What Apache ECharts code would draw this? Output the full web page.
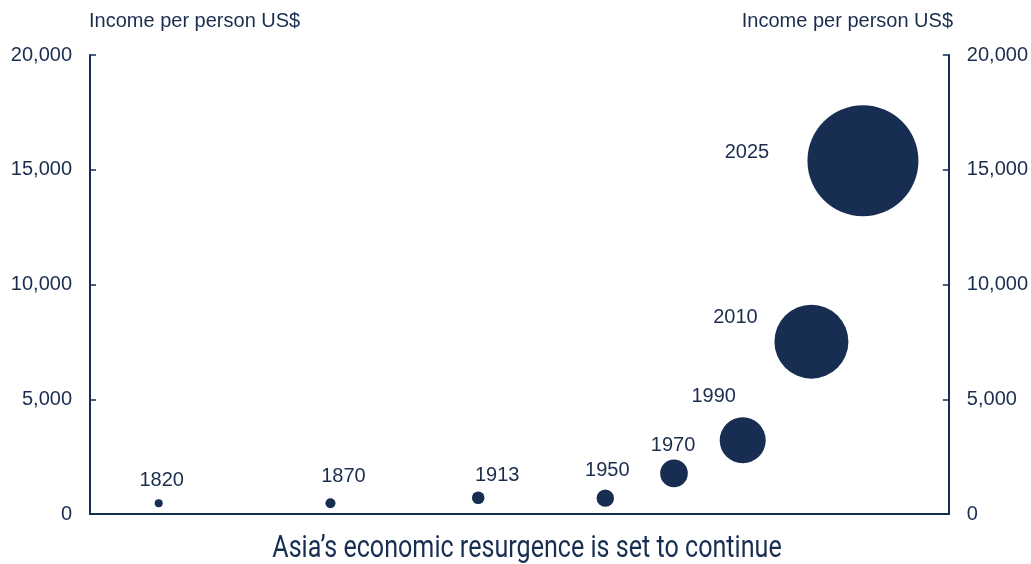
<!DOCTYPE html>
<html>
<head>
<meta charset="utf-8">
<script src="https://cdn.jsdelivr.net/npm/echarts@6/dist/echarts.min.js"></script>
<style>
html,body{margin:0;padding:0;background:#fff;}
#chart{width:1031px;height:564px;}
</style>
</head>
<body>
<div id="chart"></div>
<script>
// Data
const years = [1820, 1870, 1913, 1950, 1970, 1990, 2010, 2025];
const incomePerPerson = [470, 470, 710, 690, 1770, 3210, 7510, 15390];
const bubbleWeight = [8, 10, 12.6, 17.4, 27.6, 46, 74, 111];
const yTicks = [0, 5000, 10000, 15000, 20000];
const axisName = 'Income per person US$';
const titleText = 'Asia\u2019s economic resurgence is set to continue';

// Label placement (style only): offsets of each year label relative to its bubble
const labelOffsets = [[3, -23], [13, -27], [19, -22], [2, -28], [-1, -28], [-29, -44], [-76, -24], [-116, -8]];

const NAVY = '#172d52';
const TEXT = '#1b2d4f';

const chart = echarts.init(document.getElementById('chart'), null, {renderer: 'canvas'});

const fmt = v => v.toString().replace(/\B(?=(\d{3})+(?!\d))/g, ',');

function yAxis(pos) {
  return {
    type: 'value',
    position: pos,
    min: yTicks[0],
    max: yTicks[yTicks.length - 1],
    interval: yTicks[1] - yTicks[0],
    axisLine: {show: true, onZero: false, lineStyle: {color: NAVY, width: 2}},
    axisTick: {show: true, inside: true, length: 6, lineStyle: {color: NAVY, width: 1.5}},
    axisLabel: {
      color: TEXT, fontFamily: 'Liberation Sans, Arial, sans-serif', fontSize: 20,
      margin: 18, formatter: fmt
    },
    splitLine: {show: false}
  };
}

const data = years.map((y, i) => ({
  value: [y, incomePerPerson[i], bubbleWeight[i]],
  label: {offset: labelOffsets[i]}
}));

chart.setOption({
  animation: false,
  backgroundColor: '#fff',
  grid: {left: 90, right: 78, top: 55, bottom: 50, containLabel: false},
  xAxis: {
    type: 'value', min: 1800, max: 2050,
    axisLine: {show: true, onZero: false, lineStyle: {color: NAVY, width: 2}},
    axisTick: {show: false}, axisLabel: {show: false}, splitLine: {show: false}
  },
  yAxis: [yAxis('left'), yAxis('right')],
  graphic: [
    {type: 'text', left: 89, top: 11, style: {text: axisName, fill: TEXT, font: '20px "Liberation Sans", Arial, sans-serif'}},
    {type: 'text', right: 78, top: 11, style: {text: axisName, fill: TEXT, font: '20px "Liberation Sans", Arial, sans-serif'}},
    {type: 'text', x: 527, y: 549, scaleX: 0.81,
      style: {text: titleText, fill: NAVY, font: '31px Roboto, sans-serif', align: 'center', verticalAlign: 'middle'}}
  ],
  series: [{
    type: 'scatter',
    yAxisIndex: 0,
    data: data,
    symbol: 'circle',
    symbolSize: v => v[2],
    itemStyle: {color: NAVY, opacity: 1},
    label: {
      show: true, position: 'inside',
      formatter: p => String(p.value[0]),
      color: TEXT, fontFamily: 'Liberation Sans, Arial, sans-serif', fontSize: 20
    },
    emphasis: {disabled: true}
  }]
});
</script>
</body>
</html>
